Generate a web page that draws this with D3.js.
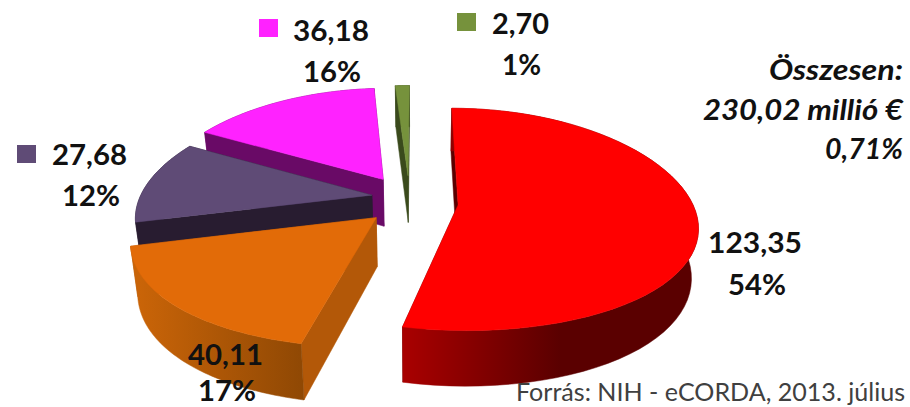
<!DOCTYPE html>
<html><head><meta charset="utf-8">
<script src="https://cdnjs.cloudflare.com/ajax/libs/d3/7.8.5/d3.min.js"></script>
<style>html,body{margin:0;padding:0;background:#fff}svg{display:block}</style>
</head><body><svg id="c" width="910" height="407"></svg>
<script>
// ---- data ----
const categories = ["a","b","c","d","e"];
const values = [123.35, 40.11, 27.68, 36.18, 2.70];
const percents = ["54%","17%","12%","16%","1%"];
const totalLines = ["Összesen:","230,02 millió €","0,71%"];
const sourceText = "Forrás: NIH - eCORDA, 2013. július";
// ---- style ----
const topColors  = ["#ff0000","#e26b08","#5f4b76","#ff22ff","#76923c"];
const sideColors = ["#5c0000","#b35808","#281c30","#690a66","#3a4a1c"];
const wallFrom   = ["#a80000","#c96408","#281c30","#690a66","#3a4a1c"];
const wallTo     = ["#5a0000","#8f4804","#281c30","#690a66","#3a4a1c"];
const wallSpan   = [[405,560],[140,304],[130,380],[200,380],[390,410]];
// per-slice pull-out in pie-plane units
const pullU = [0.175,-0.17,-0.195,-0.15,-0.04];
const pullV = [0.045,0.16,-0.045,-0.195,-0.23];
// label layout: [value x0,x1,baseline, pct x0,x1,baseline]
const labelBox = [
 [708,802,253, 728,786,295],
 [188,263,365, 198,256,401],
 [52,127,165, 62,120,206],
 [293,369,41, 303,361,82],
 [492,549,34, 502,541,75]];
const swatch = [null,null,[17,145],[259,19],[457,13]];

const svg = d3.select("#c");
const defs = svg.append("defs");
const sx = d3.scaleLinear().domain([0,1]).range([417,650]);
const sy = d3.scaleLinear().domain([0,1]).range([200,308]);
const kx=0.18, ky=0.13, depth=48, bottomShrink=0.975;
function proj(u,v,low){
  const X=u/(1-kx*v), Y=v/(1-ky*v);
  let x=sx(X), y=sy(Y);
  if(low){ x=sx(X*bottomShrink); y+=depth/(1-ky*v); }
  return [x,y];
}
const pie = d3.pie().sort(null).value(d=>d)(values);
const line = d3.line();
const order=[4,3,2,1,0];
order.forEach(i=>{
  const p=pie[i], a0=p.startAngle, a1=p.endAngle;
  const pts=d3.range(0,61).map(k=>a0+(a1-a0)*k/60);
  const P=(r,a,low)=>proj(pullU[i]+r*Math.sin(a),pullV[i]-r*Math.cos(a),low);
  const g=svg.append("g");
  const grad=defs.append("linearGradient").attr("id","w"+i).attr("gradientUnits","userSpaceOnUse")
    .attr("x1",wallSpan[i][0]).attr("x2",wallSpan[i][1]).attr("y1",0).attr("y2",0);
  grad.append("stop").attr("offset",0).attr("stop-color",wallFrom[i]);
  grad.append("stop").attr("offset",1).attr("stop-color",wallTo[i]);
  const face=(pp,fill)=>g.append("path").attr("d",line(pp)+"Z").attr("fill",fill).attr("stroke",fill).attr("stroke-width",0.5);
  face([P(0,a1,false),P(1,a1,false),P(1,a1,true),P(0,a1,true)],sideColors[i]);
  face([P(0,a0,false),P(1,a0,false),P(1,a0,true),P(0,a0,true)],sideColors[i]);
  const tp=pts.map(a=>P(1,a,false)), bp=pts.map(a=>P(1,a,true)).reverse();
  face(tp.concat(bp),`url(#w${i})`);
  face([P(0,a0,false)].concat(tp),topColors[i]);
});
swatch.forEach((s,i)=>{ if(s) svg.append("rect").attr("x",s[0]).attr("y",s[1]).attr("width",19).attr("height",18).attr("fill",topColors[i]); });
const font="Lato,'Noto Sans',sans-serif";
function txt(t,x0,x1,y,opt={}){
  svg.append("text").attr("x",x0).attr("y",y).text(t)
    .attr("font-family",font).attr("font-size",opt.size||28).attr("font-weight",opt.w||700)
    .attr("font-style",opt.i?"italic":"normal").attr("fill",opt.c||"#111")
    .attr("textLength",x1-x0).attr("lengthAdjust","spacingAndGlyphs");
}
values.forEach((v,i)=>{
  const b=labelBox[i];
  txt(v.toFixed(2).replace(".",","),b[0],b[1],b[2]);
  txt(percents[i],b[3],b[4],b[5]);
});
txt(totalLines[0],769,903,80,{i:true,size:28});
txt(totalLines[1],703,903,120,{i:true,size:28});
txt(totalLines[2],825,903,159,{i:true,size:28});
txt(sourceText,516,905,401,{size:25,w:400,c:"#404040"});
</script></body></html>
